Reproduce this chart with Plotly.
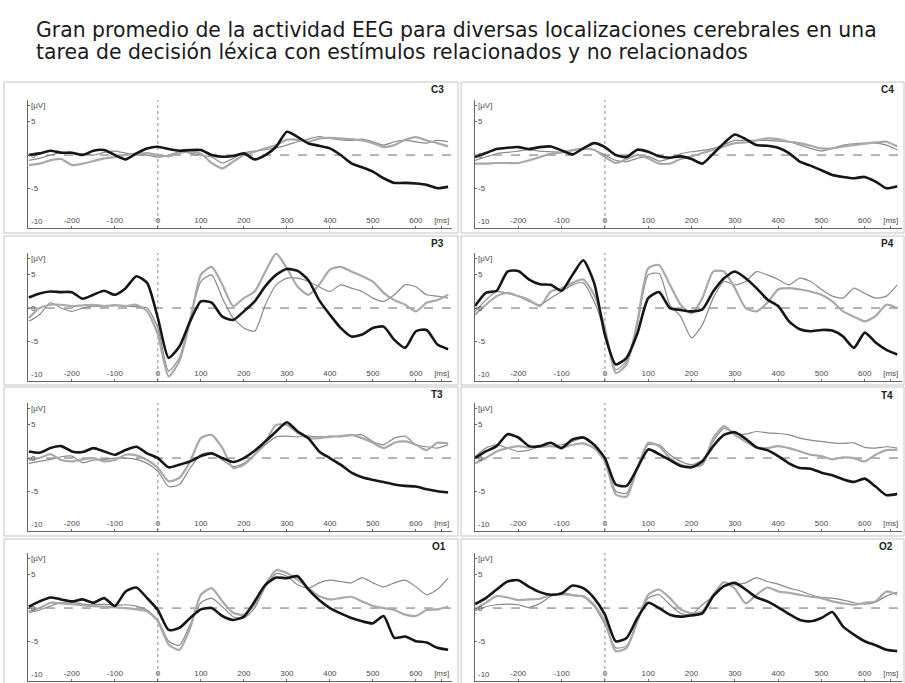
import plotly.graph_objects as go

W, H = 905, 683

# time axis (ms)
t_ms = list(range(-300, 700, 25))  # 40 samples: -300 ... 675

# ---------------- data (µV) ----------------
C3_black = [0, 0.25, 0.65, 0.35, 0.35, 0, 0.65, 0.75, 0, -0.65,
            0.25, 1.0, 1.25, 0.9, 0.65, 0.75, 0.75, 0, -0.25, -0.15,
            0.25, -0.65, 0, 1.25, 3.5, 2.75, 1.75, 1.4, 1.0, 0,
            -1.25, -1.85, -2.5, -3.5, -4.2, -4.2, -4.3, -4.5, -5.0, -4.8]
C3_gray = [-1.5, -1.3, -0.8, -0.6, -1.5, -1.3, -0.9, -0.5, -0.3, 0.0,
           0.2, 0.3, 0.0, -0.2, 0.3, 0.5, 0.2, -1.2, -2.0, -1.0,
           0.0, 0.5, 1.0, 1.5, 2.3, 2.3, 2.0, 2.5, 2.6, 2.5,
           2.4, 2.2, 1.8, 1.2, 1.5, 2.3, 2.7, 2.2, 1.8, 1.3]
C3_thin = [-0.8, -0.5, 0.0, 0.4, 0.3, 0.2, 0.0, 0.4, 0.6, 0.3,
           0.1, 0.0, -0.3, 0.0, 0.5, 0.3, 0.0, -0.3, -1.2, -0.5,
           0.3, 0.6, 0.8, 1.1, 1.5, 2.0, 2.4, 2.8, 2.5, 2.3,
           2.2, 2.4, 2.0, 1.5, 2.0, 2.2, 2.0, 1.8, 2.2, 2.0]

C4_black = [-0.3, 0.3, 0.9, 1.1, 1.2, 0.9, 1.2, 1.3, 0.7, 0.1,
            1.0, 1.8, 1.2, 0.0, -0.3, 0.8, 0.5, -0.2, -0.4, -0.2,
            -0.6, -1.3, 0.2, 1.8, 3.1, 2.4, 1.5, 1.4, 1.1, 0.3,
            -1.0, -1.6, -2.3, -3.0, -3.3, -3.5, -3.3, -4.0, -5.0, -4.7]
C4_gray = [-1.3, -1.3, -1.2, -1.2, -1.2, -0.8, -0.3, 0.2, 0.4, 0.7,
           0.9, 0.8, -0.3, -1.2, -0.6, 0.0, -0.5, -1.3, -1.3, -0.6,
           -0.2, 0.3, 0.8, 1.3, 1.8, 1.9, 2.2, 2.5, 2.4, 2.0,
           1.8, 1.4, 1.0, 1.0, 1.3, 1.5, 1.7, 1.9, 2.0, 1.3]
C4_thin = [-0.8, -0.3, 0.2, 0.4, 0.6, 0.8, 0.6, 0.5, 0.4, 0.8,
           1.0, 0.8, 0.0, -0.8, -1.0, -0.5, -0.2, -0.9, -0.5, 0.2,
           0.5, 0.7, 1.0, 1.6, 2.2, 2.2, 2.2, 2.2, 2.1, 2.0,
           1.5, 1.0, 0.6, 1.0, 1.5, 1.7, 1.8, 1.8, 1.5, 0.8]

P3_black = [1.6, 2.2, 2.5, 2.4, 2.4, 1.4, 2.0, 2.6, 2.0, 3.0,
            4.8, 3.8, -1.5, -7.5, -5.8, -2.0, 1.0, 0.8, -1.3, -1.8,
            -0.5, 1.0, 3.3, 5.0, 5.9, 5.6, 4.2, 1.2, -1.0, -3.0,
            -4.3, -4.0, -3.0, -2.8, -4.8, -6.0, -3.5, -3.3, -5.5, -6.2]
P3_gray = [-1.5, 0.0, 0.5, 0.5, 0.3, 0.4, 0.5, 0.3, 0.4, 0.3,
           0.5, -0.5, -4.0, -10.3, -8.0, -2.0, 5.0, 6.2, 3.5, 0.3,
           1.5, 2.5, 5.5, 8.2, 6.0, 3.2, 2.0, 3.5, 5.8, 6.2,
           5.5, 4.8, 4.0, 2.3, 1.2, 0.5, -0.5, 0.8, 1.2, 2.0]
P3_thin = [-2.0, -1.0, 0.8, 0.0, -0.5, 0.0, 0.3, 0.2, 0.5, 0.3,
           0.2, 0.0, -3.0, -9.5, -7.5, -1.5, 4.0, 5.0, 1.5, -1.5,
           -3.0, -3.5, 0.5, 3.5, 4.5, 4.5, 4.0, 3.2, 2.5, 3.5,
           3.0, 2.5, 1.5, 1.0, 2.0, 3.5, 3.2, 2.0, 1.8, 1.5]

P4_black = [0.3, 2.3, 2.6, 5.5, 5.6, 4.3, 3.6, 3.5, 2.6, 5.0,
            7.2, 3.8, -4.0, -8.5, -7.5, -3.8, 1.5, 2.4, 0.0, -0.3,
            -0.5, -0.2, 2.5, 4.5, 5.5, 4.5, 3.0, 1.3, 0.3, -2.0,
            -3.2, -3.5, -3.3, -3.4, -4.3, -6.0, -3.7, -5.2, -6.3, -7.0]
P4_gray = [-1.0, 0.5, 1.8, 2.3, 1.8, 1.2, 0.3, 2.5, 3.0, 3.8,
           4.3, 2.0, -3.0, -9.8, -8.5, -2.0, 6.0, 6.5, 3.5, 0.5,
           -0.8, 1.5, 5.5, 5.5, 3.0, 0.0, -0.5, 0.8, 2.8, 3.0,
           2.8, 2.5, 2.0, 1.0, -0.5, -1.3, -2.0, -1.2, 0.5, 0.0]
P4_thin = [-0.5, 1.2, 2.5, 2.2, 1.8, 1.0, 0.5, 1.5, 2.5, 3.5,
           3.8, 1.0, -3.5, -9.3, -8.0, -2.5, 5.0, 5.2, 0.5, -1.3,
           -4.5, -2.5, 1.5, 4.0, 3.5, 4.0, 5.5, 5.0, 4.3, 3.5,
           4.5, 4.0, 2.8, 1.8, 1.5, 3.0, 2.2, 1.5, 1.8, 3.5]

T3_black = [1.0, 0.8, 1.5, 1.8, 1.0, 0.9, 1.5, 1.0, 0.5, 1.2,
            1.7, 0.7, 0.0, -1.4, -1.0, -0.5, 0.3, 0.7, 0.0, -0.6,
            0.0, 1.1, 2.5, 4.0, 5.4, 4.0, 3.0, 1.0, 0.0, -1.0,
            -2.2, -2.9, -3.3, -3.6, -4.0, -4.2, -4.3, -4.7, -5.0, -5.2]
T3_gray = [-0.3, 0.0, 0.6, -0.3, -0.5, -0.2, 0.0, -0.5, -0.3, 0.5,
           0.4, -0.3, -1.5, -3.5, -3.0, -0.5, 3.0, 3.5, 1.5, -1.5,
           -1.0, 0.5, 2.5, 5.0, 5.0, 3.8, 3.0, 3.0, 3.2, 3.3,
           3.5, 3.0, 2.3, 1.5, 2.3, 2.5, 2.0, 1.2, 2.3, 2.2]
T3_thin = [-0.8, -0.5, -0.2, 0.2, 0.3, -0.7, -0.3, -0.2, 0.0, 0.0,
           -0.2, -0.8, -2.0, -4.3, -4.0, -1.5, 0.5, 0.8, -0.3, -1.3,
           -0.8, 0.5, 2.0, 3.2, 3.3, 3.2, 3.3, 3.2, 3.3, 3.2,
           3.4, 3.5, 2.5, 2.0, 3.0, 3.3, 2.0, 1.7, 1.5, 2.0]

T4_black = [0.0, 1.0, 1.8, 3.6, 3.1, 1.8, 1.8, 2.3, 1.5, 2.8,
            3.1, 2.0, 0.0, -4.0, -4.2, -1.5, 1.3, 0.6, -0.3, -1.2,
            -1.4, -0.5, 1.8, 3.5, 3.9, 2.9, 1.6, 1.2, 0.3, -0.8,
            -1.5, -1.6, -2.2, -2.6, -3.2, -3.6, -3.1, -4.3, -5.6, -5.4]
T4_gray = [-0.8, 0.0, 1.0, 1.5, 1.8, 1.6, 1.7, 1.8, 1.6, 2.0,
           2.2, 1.5, -0.5, -5.5, -5.8, -1.5, 2.3, 1.8, 0.0, -1.0,
           -1.3, -1.0, 3.0, 4.8, 3.5, 2.5, 1.6, 1.5, 1.8, 1.5,
           1.0, 0.5, 0.3, -0.2, 0.1, 0.0, -0.5, 0.5, 1.2, 1.2]
T4_thin = [0.2, 1.5, 2.0, 1.5, 1.0, 1.2, 1.7, 1.8, 2.0, 2.5,
           3.0, 2.0, -0.5, -5.0, -5.3, -1.3, 2.0, 2.0, 0.5, -0.5,
           -1.0, -0.3, 2.5, 4.5, 3.7, 3.6, 4.0, 3.8, 3.7, 3.5,
           3.0, 2.7, 2.5, 2.3, 2.2, 2.3, 1.6, 1.5, 1.7, 1.5]

O1_black = [0.2, 1.0, 1.6, 1.3, 1.0, 1.3, 0.8, 1.5, 0.3, 2.5,
            3.1, 1.5, -0.3, -3.3, -3.0, -1.5, -0.2, 0.0, -1.2, -1.8,
            -1.3, 1.0, 3.5, 4.6, 4.5, 4.8, 2.8, 1.2, 0.0, -0.8,
            -1.5, -2.0, -2.3, -1.2, -4.5, -4.3, -5.0, -5.2, -6.0, -6.3]
O1_gray = [-0.5, 0.0, 0.8, 0.7, 0.6, 0.4, 0.3, 0.2, 0.1, 0.0,
           -0.2, -0.5, -2.0, -5.5, -6.3, -3.0, 2.0, 3.0, 1.0, -0.7,
           -1.0, 0.5, 3.5, 5.7, 5.3, 4.3, 3.0, 1.8, 1.3, 1.5,
           1.7, 1.0, 0.3, 0.0, -0.3, -1.0, -1.2, -0.3, -0.2, 0.2]
O1_thin = [-0.7, -0.3, 0.3, 0.8, 0.9, 0.6, 0.5, 0.6, 0.4, 0.5,
           0.3, -0.3, -1.8, -5.0, -5.6, -2.5, 0.8, 1.5, 0.2, -1.3,
           -1.5, 0.0, 3.2, 5.2, 4.8, 3.5, 3.0, 3.8, 4.2, 4.0,
           3.8, 4.6, 3.8, 3.2, 3.8, 4.2, 3.2, 2.0, 2.8, 4.5]

O2_black = [0.6, 1.5, 2.8, 4.0, 4.2, 3.2, 2.4, 2.0, 2.2, 3.4,
            3.0, 1.5, -1.0, -5.0, -4.5, -1.5, 0.8, 0.0, -1.0, -1.3,
            -1.1, -0.8, 1.8, 3.3, 3.8, 2.8, 1.6, 1.0, 0.1, -0.9,
            -1.8, -2.0, -1.5, -0.6, -2.8, -4.0, -5.0, -5.6, -6.3, -6.5]
O2_gray = [-0.2, 0.8, 1.8, 1.6, 1.2, 1.3, 1.4, 2.0, 2.1, 1.9,
           1.8, 0.5, -2.0, -6.5, -6.0, -2.0, 2.0, 2.8, 1.5, -0.2,
           -0.8, -0.5, 2.0, 3.9, 2.9, 0.7, 2.0, 3.1, 2.5, 2.3,
           2.0, 1.7, 1.5, 1.0, 0.7, 0.5, 0.8, 1.0, 2.5, 2.0]
O2_thin = [-0.4, 0.2, 0.5, 0.6, 0.5, 0.1, 0.7, 1.8, 2.3, 2.0,
           1.7, 0.3, -2.5, -6.0, -5.7, -2.0, 1.5, 2.0, 0.5, -0.8,
           -1.0, 0.5, 1.8, 3.3, 3.5, 3.8, 4.6, 4.0, 3.6, 3.0,
           2.6, 2.0, 1.6, 1.5, 1.2, 0.8, 0.6, 0.9, 1.8, 2.4]

panel_names = ["C3", "C4", "P3", "P4", "T3", "T4", "O1", "O2"]
panel_series = [
    (C3_black, C3_gray, C3_thin), (C4_black, C4_gray, C4_thin),
    (P3_black, P3_gray, P3_thin), (P4_black, P4_gray, P4_thin),
    (T3_black, T3_gray, T3_thin), (T4_black, T4_gray, T4_thin),
    (O1_black, O1_gray, O1_thin), (O2_black, O2_gray, O2_thin),
]

x_tick_vals = [-200, -100, 0, 100, 200, 300, 400, 500, 600, 660]
x_tick_text = ["-200", "-100", "0", "100", "200", "300", "400", "500", "600", "[ms]"]
y_tick_vals = [7.5, 5, 0, -5, -10]
y_tick_text = ["[µV]", "5", "0", "-5", "-10"]

title_lines = [
    "Gran promedio de la actividad EEG para diversas localizaciones cerebrales en una",
    "tarea de decisión léxica con estímulos relacionados y no relacionados",
]

# ---------------- geometry (pixels) ----------------
def px(x):
    return x / W

def py(y):
    return 1 - y / H

col_px = [(28, 452), (475, 902)]
col_xrange = [[-302, 684], [-300, 686]]
row_px = [(100, 228), (253, 381), (403, 531), (553, 681)]
y_range = [-11, 8.3]
box_rows = [(82, 233), (236, 385), (387, 536), (539, 690)]
box_cols = [(4, 458), (461, 904)]
label_pos = [(437, 89), (887, 89), (437, 243), (887, 243),
             (437, 394), (887, 395), (439, 546), (886, 546)]

styles = [
    dict(color="#161616", width=2.6),
    dict(color="#a9a9a9", width=2.2),
    dict(color="#8a8a8a", width=1.2),
]

FONT = "Liberation Sans, Arial, sans-serif"
axis_font = dict(size=8, color="#4a4a4a", family=FONT)

fig = go.Figure()
layout = dict(
    width=W, height=H, margin=dict(l=0, r=0, t=0, b=0),
    paper_bgcolor="white", plot_bgcolor="white", showlegend=False,
    font=dict(family=FONT, color="#333"),
)
shapes = []
annotations = []

for i, name in enumerate(panel_names):
    r, c = divmod(i, 2)
    k = i + 1
    xa = "x" if k == 1 else f"x{k}"
    ya = "y" if k == 1 else f"y{k}"
    for series, st in zip(panel_series[i][::-1], styles[::-1]):
        fig.add_trace(go.Scatter(
            x=t_ms, y=series, mode="lines", xaxis=xa, yaxis=ya,
            line=dict(color=st["color"], width=st["width"], shape="spline", smoothing=0.6),
            hoverinfo="skip"))
    x0, x1 = col_px[c]
    top, bot = row_px[r]
    layout["xaxis" + ("" if k == 1 else str(k))] = dict(
        domain=[px(x0), px(x1)], range=col_xrange[c], anchor=ya,
        tickvals=x_tick_vals, ticktext=x_tick_text, ticklabelposition="inside",
        ticks="inside", ticklen=2, tickcolor="#666", tickfont=axis_font,
        showgrid=False, zeroline=False, showline=True, linecolor="#666", linewidth=1,
        fixedrange=True)
    layout["yaxis" + ("" if k == 1 else str(k))] = dict(
        domain=[py(bot), py(top)], range=y_range, anchor=xa,
        tickvals=y_tick_vals, ticks="inside", ticklen=2, tickcolor="#666",
        showticklabels=False,
        showgrid=False, zeroline=False, showline=True, linecolor="#666", linewidth=1,
        fixedrange=True)
    # y tick labels drawn just right of the axis line
    for v, txt in zip(y_tick_vals, y_tick_text):
        annotations.append(dict(text=txt, xref=f"{xa} domain", yref=ya, x=0, y=v,
                                xanchor="left", yanchor="middle", xshift=1, showarrow=False,
                                font=axis_font))
    # dashed zero line and stimulus onset line
    shapes.append(dict(type="line", xref=xa, yref=ya, x0=col_xrange[c][0], x1=col_xrange[c][1],
                       y0=0, y1=0, line=dict(color="#6a6a6a", width=1, dash="dash"), layer="below"))
    shapes.append(dict(type="line", xref=xa, yref=ya, x0=0, x1=0, y0=y_range[0], y1=y_range[1],
                       line=dict(color="#8a8a8a", width=1, dash="dot"), layer="below"))
    # panel frame
    bx0, bx1 = box_cols[c]
    by0, by1 = box_rows[r]
    shapes.append(dict(type="rect", xref="paper", yref="paper",
                       x0=px(bx0), x1=px(bx1), y0=py(by1), y1=py(by0),
                       line=dict(color="#c4c4c4", width=1), layer="below"))
    lx, ly = label_pos[i]
    annotations.append(dict(text=f"<b>{name}</b>", xref="paper", yref="paper",
                            x=px(lx), y=py(ly), showarrow=False, xanchor="center", yanchor="middle",
                            font=dict(size=10, color="#222", family=FONT)))

for j, line in enumerate(title_lines):
    annotations.append(dict(text=line, xref="paper", yref="paper", x=px(34), y=py(30 + 22 * j),
                            showarrow=False, xanchor="left", yanchor="middle",
                            font=dict(size=20.4, color="#1a1a1a", family="DejaVu Sans, sans-serif")))

layout["shapes"] = shapes
layout["annotations"] = annotations
fig.update_layout(**layout)
fig.write_html(
    "out.html",
    config={"displayModeBar": False, "staticPlot": True},
    post_script="document.body.style.margin='0';document.body.style.padding='0';"
                "document.body.style.overflow='hidden';",
)
